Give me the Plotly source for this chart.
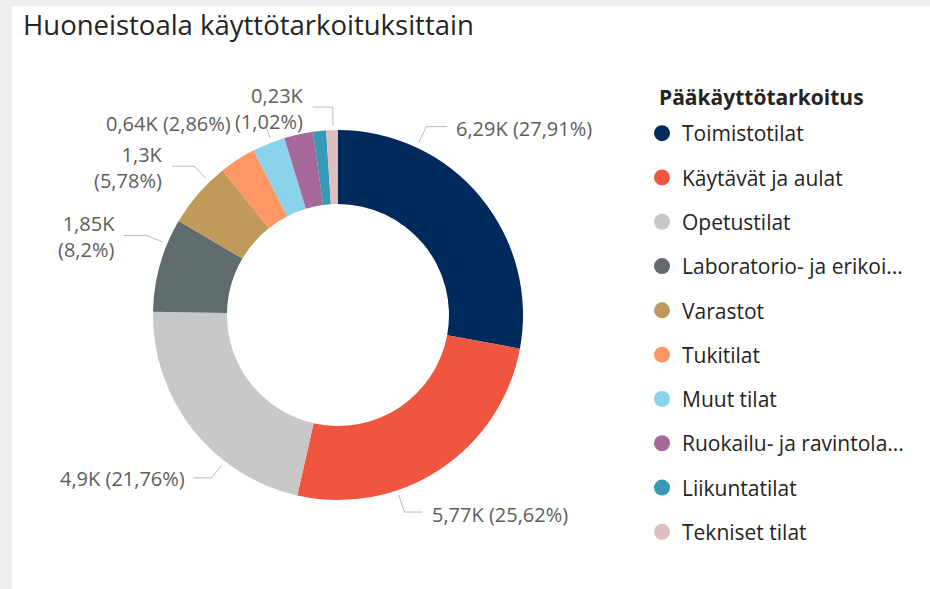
import math
import plotly.graph_objects as go

# ---------------- data ----------------
categories = [
    "Toimistotilat", "Käytävät ja aulat", "Opetustilat",
    "Laboratorio- ja erikoi...", "Varastot", "Tukitilat", "Muut tilat",
    "Ruokailu- ja ravintola...", "Liikuntatilat", "Tekniset tilat",
]
values = [6290, 5774, 4904, 1848, 1303, 719, 644, 570, 255, 230]  # m²
colors = ["#002A5C", "#F0563F", "#C8C9C7", "#5F6B6D", "#C19A5B",
          "#FE9666", "#8AD4EB", "#A66999", "#3599B8", "#DFBFBF"]
title_text = "Huoneistoala käyttötarkoituksittain"
legend_title = "Pääkäyttötarkoitus"

# data-label placement style (layout only): position inside slice (t),
# radial leg, horizontal run, text offset, one/two lines
label_style = {
    "Toimistotilat":             dict(t=0.25, leg=18, run=21,  two=False),
    "Käytävät ja aulat":         dict(t=0.66, leg=18, run=18,  two=False),
    "Opetustilat":               dict(t=0.32, leg=16, run=-18, two=False),
    "Laboratorio- ja erikoi...": dict(t=0.73, leg=17, run=-23, two=True),
    "Varastot":                  dict(t=0.74, leg=17, run=-22, two=True),
    "Muut tilat":                dict(t=0.60, leg=10, run=0,   two=False, dx=-33, dy=-5),
    "Tekniset tilat":            dict(t=0.60, leg=18, run=-20, two=True),
}

# ---------------- layout geometry (pixels) ----------------
W, H = 930, 589
CX, CY, R = 338, 315, 185
HOLE = 0.60
TXT = "#605E5C"
FONT = "Open Sans"
GAP = 7


def px(x):
    return x / W


def py(y):
    return 1 - y / H


def fmt_k(v):
    s = f"{v/1000:.2f}".rstrip("0").rstrip(".")
    return s.replace(".", ",") + "K"


def fmt_pct(p):
    s = f"{p:.2f}".rstrip("0").rstrip(".")
    return "(" + s.replace(".", ",") + "%)"


fig = go.Figure()
fig.add_trace(go.Pie(
    labels=categories, values=values, sort=False, direction="clockwise",
    rotation=0, hole=HOLE, textinfo="none", showlegend=False,
    marker=dict(colors=colors, line=dict(width=0)),
    domain=dict(x=[px(CX - R), px(CX + R)], y=[py(CY + R), py(CY - R)]),
    hovertemplate="%{label}: %{value}<extra></extra>",
))

# legend proxies (circle symbols, one group each for spacing)
for c, col in zip(categories, colors):
    fig.add_trace(go.Scatter(
        x=[None], y=[None], mode="markers", name=c, legendgroup=c,
        marker=dict(color=col, size=16, symbol="circle"), showlegend=True,
    ))

shapes = [dict(type="rect", xref="paper", yref="paper", x0=px(12), x1=1, y0=0, y1=py(6),
               fillcolor="white", line=dict(width=0), layer="below")]
annotations = []
total = sum(values)
cum = 0.0
for c, v in zip(categories, values):
    a0 = cum / total * 360
    cum += v
    a1 = cum / total * 360
    st = label_style.get(c)
    if not st:
        continue
    ang = math.radians(a0 + st["t"] * (a1 - a0))
    sx, sy = math.sin(ang), -math.cos(ang)
    r0 = R + 5
    x0, y0 = CX + r0 * sx, CY + r0 * sy
    x1, y1 = CX + (r0 + st["leg"]) * sx, CY + (r0 + st["leg"]) * sy
    x2, y2 = x1 + st["run"], y1
    shapes.append(dict(
        type="path", xref="paper", yref="paper",
        path=f"M {px(x0)},{py(y0)} L {px(x1)},{py(y1)} L {px(x2)},{py(y2)}",
        line=dict(color="#BDBBB9", width=1),
    ))
    pct = v / total * 100
    sep = "<br>" if st["two"] else " "
    text = fmt_k(v) + sep + fmt_pct(pct)
    if "dx" in st:
        ann = dict(x=px(x1 + st["dx"]), y=py(y1 + st["dy"]), xanchor="right", align="right")
    elif st["run"] > 0:
        ann = dict(x=px(x2 + GAP), y=py(y2 + 2), xanchor="left", align="left")
    else:
        ann = dict(x=px(x2 - GAP), y=py(y2 + 1), xanchor="right", align="right")
    ann.update(text=text, showarrow=False, yanchor="middle", xref="paper", yref="paper",
               font=dict(family=FONT, size=20, color=TXT))
    annotations.append(ann)

# title and legend title
annotations.append(dict(x=px(21), y=py(24), xref="paper", yref="paper", xanchor="left",
                        yanchor="middle", showarrow=False, text=title_text,
                        font=dict(family=FONT, size=27.5, color="#252423")))
annotations.append(dict(x=px(657), y=py(97), xref="paper", yref="paper", xanchor="left",
                        yanchor="middle", showarrow=False, text="<b>" + legend_title + "</b>",
                        font=dict(family=FONT, size=21, color="#252423")))

fig.update_layout(
    width=W, height=H, margin=dict(l=0, r=0, t=0, b=0),
    paper_bgcolor="#EEEEEE", plot_bgcolor="rgba(0,0,0,0)",
    xaxis=dict(visible=False), yaxis=dict(visible=False),
    shapes=shapes, annotations=annotations,
    legend=dict(x=px(642), y=py(113), xanchor="left", yanchor="top",
                font=dict(family=FONT, size=21, color="#252423"),
                tracegroupgap=14, itemclick=False, bgcolor="rgba(0,0,0,0)"),
)

fig.write_html("out.html", config={"displayModeBar": False},
               post_script="document.body.style.margin='0';")
